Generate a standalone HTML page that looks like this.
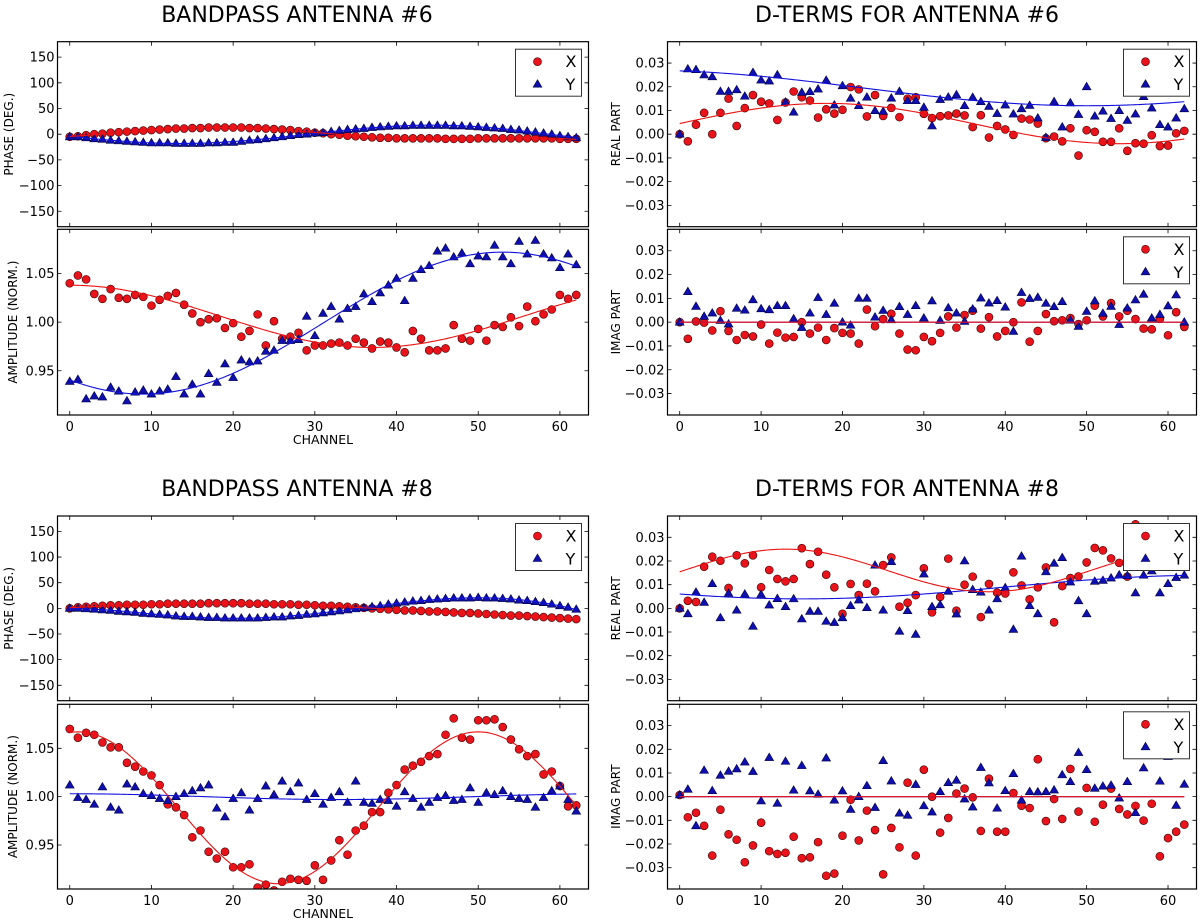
<!DOCTYPE html>
<html><head><meta charset="utf-8"><style>
html,body{margin:0;padding:0;background:#fff;}
svg{display:block;font-family:"DejaVu Sans","Liberation Sans",sans-serif;}
</style></head><body>
<svg id="fig" width="1200" height="921" viewBox="0 0 1200 921" xmlns="http://www.w3.org/2000/svg">
<text x="297" y="22" font-size="22" text-anchor="middle">BANDPASS ANTENNA #6</text>
<text x="907" y="22" font-size="22" text-anchor="middle">D-TERMS FOR ANTENNA #6</text>
<text x="297" y="496" font-size="22" text-anchor="middle">BANDPASS ANTENNA #8</text>
<text x="907" y="496" font-size="22" text-anchor="middle">D-TERMS FOR ANTENNA #8</text>
</svg>
<script>
// ---- data (channels 0..62) ----
const channels = Array.from({length:63},(_,i)=>i);
const xTicks = [0,10,20,30,40,50,60];
const phaseTicks = [-150,-100,-50,0,50,100,150];
const ampTicks = [0.95,1.00,1.05];
const dTicks = [-0.03,-0.02,-0.01,0.00,0.01,0.02,0.03];
const dTickLabels = ["\u22120.03","\u22120.02","\u22120.01","0.00","0.01","0.02","0.03"];

const ph6X = [-5,-4,-2,0,1,3,4,5,6,7,8,9,10,11,11,12,12,13,13,13,13,13,12,12,11,10,9,8,6,5,3,2,0,-1,-3,-4,-5,-6,-7,-7,-8,-8,-8,-8,-8,-8,-9,-9,-9,-9,-8,-8,-8,-8,-8,-8,-8,-8,-8,-8,-9,-9,-9];
const ph6Y = [-5,-5,-7,-9,-10,-12,-13,-14,-15,-16,-17,-17,-17,-18,-18,-18,-18,-17,-17,-16,-16,-14,-12,-11,-9,-7,-5,-3,-1,0,2,3,5,7,9,10,11,13,14,15,16,16,17,17,17,17,17,16,16,15,14,13,12,11,9,8,6,4,2,0,-3,-5,-7];
const amp6X = [1.040,1.048,1.044,1.029,1.024,1.034,1.025,1.024,1.028,1.026,1.017,1.023,1.027,1.030,1.018,1.009,1.000,1.003,1.004,0.994,0.999,0.985,0.991,1.008,0.976,1.001,0.983,0.985,0.989,0.971,0.976,0.976,0.978,0.979,0.976,0.983,0.979,0.973,0.980,0.979,0.974,0.969,0.991,0.983,0.971,0.971,0.973,0.997,0.983,0.981,0.993,0.981,0.997,0.995,1.005,0.996,1.016,1.001,1.008,1.013,1.028,1.024,1.028];
const amp6Y = [0.939,0.941,0.921,0.924,0.923,0.933,0.929,0.919,0.928,0.930,0.926,0.929,0.931,0.944,0.926,0.936,0.926,0.947,0.938,0.957,0.943,0.961,0.959,0.960,0.970,0.971,0.981,0.981,0.982,1.006,0.986,1.009,1.016,1.003,1.014,1.016,1.029,1.021,1.030,1.038,1.045,1.022,1.045,1.054,1.058,1.073,1.076,1.067,1.071,1.060,1.068,1.067,1.079,1.067,1.060,1.083,1.070,1.084,1.070,1.066,1.056,1.070,1.059];
const re6X = [0.000,-0.003,0.004,0.009,0.000,0.009,0.015,0.0035,0.011,0.0165,0.0137,0.013,0.006,0.0134,0.018,0.0156,0.0142,0.007,0.0105,0.0087,0.0103,0.0199,0.0189,0.0075,0.0165,0.0077,0.0111,0.0072,0.015,0.0156,0.0086,0.0068,0.0076,0.0079,0.0087,0.0079,0.003,0.008,-0.0014,0.0035,0.002,-0.0003,0.0066,0.0062,0.0045,-0.0017,-0.001,-0.003,0.0025,-0.009,0.0017,0.001,-0.0032,-0.0032,0.0025,-0.007,-0.0038,-0.004,-0.0004,-0.005,-0.0048,0.0004,0.0014];
const re6Y = [0.0,0.0275,0.0272,0.025,0.0242,0.018,0.018,0.0187,0.016,0.026,0.0228,0.0224,0.025,0.0135,0.0093,0.0176,0.0179,0.019,0.0227,0.0123,0.0204,0.0151,0.012,0.0156,0.0099,0.0096,0.0152,0.018,0.0141,0.0141,0.0113,0.0035,0.0146,0.0156,0.0166,0.012,0.0155,0.0137,0.0117,0.0087,0.0123,0.0085,0.0107,0.0121,0.0068,-0.0014,0.0137,0.003,0.0132,0.0083,0.02,0.0076,0.0097,0.0066,0.0099,0.0058,0.0085,0.0158,0.011,0.004,0.003,0.0068,0.0107];
const im6X = [0,-0.007,0.0003,-0.0002,-0.0035,0.0046,-0.0037,-0.0075,-0.0054,-0.006,-0.001,-0.009,-0.0044,-0.0065,-0.0062,0,-0.0048,-0.0023,-0.0075,-0.0025,-0.0045,-0.0048,-0.009,0.0053,-0.0017,0.0013,0.0035,-0.0048,-0.0115,-0.0118,-0.0062,-0.008,-0.0045,0.0024,-0.0023,0.003,0.0048,-0.0027,0.0021,-0.006,-0.0037,0,0.0083,-0.0082,-0.0037,0.0034,0.0004,0.0008,0.0017,-0.0008,0.0008,0.0069,0.0024,0.008,0.0024,0.0048,0.0013,-0.0027,-0.003,0.0014,-0.0055,0.0042,-0.002];
const im6Y = [0,0.0128,0.0066,0.0024,0.0038,0.0007,-0.0008,0.0058,0.005,0.0094,0.0056,0.0052,0.0069,0.0069,0.0014,-0.0023,0.0038,0.0103,0.0032,0.0079,0,-0.0013,0.01,0.01,0.0021,0.0049,0.001,0.0065,0.0032,0.0069,0.0017,0.0089,0.0007,0.006,0.0038,0.0003,0.0055,0.0101,0.008,0.009,0.0063,-0.0039,0.0124,0.0099,0.0104,0.0079,0.0065,0.0086,0.0008,-0.0018,0.0045,0.0089,0.0037,0.0066,-0.001,0.0059,0.0093,0.0117,0.0017,0.0032,0.0068,0.0114,0];

const ph8X = [0,2,3,4,5,6,6,7,7,7,8,8,9,9,9,9,9,10,10,10,10,10,9,9,9,8,8,8,7,7,6,5,5,4,3,2,1,0,-1,-2,-3,-4,-4,-5,-6,-6,-7,-8,-9,-9,-10,-11,-12,-13,-14,-14,-15,-16,-17,-18,-19,-20,-21];
const ph8Y = [0,0,-1,-2,-3,-4,-6,-7,-8,-10,-11,-12,-13,-15,-16,-16,-17,-18,-18,-19,-19,-19,-19,-19,-18,-17,-17,-15,-14,-12,-11,-9,-7,-5,-3,-1,1,3,5,8,10,12,14,15,17,18,19,20,20,20,21,20,20,19,18,16,15,13,11,8,5,2,-2];
const amp8X = [1.070,1.061,1.066,1.064,1.056,1.051,1.051,1.035,1.031,1.026,1.022,1.012,0.992,0.989,0.981,0.958,0.965,0.943,0.936,0.943,0.927,0.927,0.930,0.906,0.909,0.903,0.912,0.915,0.914,0.913,0.929,0.914,0.934,0.955,0.940,0.965,0.970,0.984,0.984,1.004,1.012,1.028,1.032,1.036,1.042,1.044,1.064,1.081,1.061,1.059,1.079,1.079,1.080,1.072,1.059,1.049,1.042,1.044,1.023,1.026,1.011,0.990,0.991];
const amp8Y = [1.012,0.999,0.997,0.992,1.010,0.989,0.986,1.013,1.010,1.003,1.001,0.998,0.996,1.000,1.003,1.006,1.009,1.012,0.988,0.979,0.998,1.004,0.986,0.998,1.011,1.002,1.016,1.005,1.014,0.997,1.003,0.992,0.999,1.005,0.994,1.016,0.994,0.993,0.997,0.996,0.990,1.005,0.998,0.989,0.994,0.999,1.001,0.996,0.997,1.009,0.994,1.004,1.002,1.006,1.000,0.998,0.997,0.989,0.999,1.006,1.011,0.997,0.985];
const re8X = [0,0.0032,0.0027,0.0176,0.0218,0.0201,0.0086,0.0224,0.019,0.0224,0.0089,0.0162,0.0124,0.0114,0.0124,0.0254,0.0187,0.0239,0.0142,0.0089,-0.0023,0.0103,0.0056,0.0104,0.0072,0.0183,0.0215,0.0007,0.0024,0.0056,0.0169,-0.0017,0.0048,0.021,-0.001,0.01,0.0134,-0.0037,0.0103,0.0066,0.0063,0.0152,0.0097,0.0038,0.0089,0.0173,-0.0059,0.0094,0.0128,0.0135,0.0194,0.0255,0.0245,0.0211,0.0192,0.0134,0.0355,0.022,0.026,0.02,0.018,0.024,0.022];
const re8Y = [0,-0.0023,0.0068,0.0025,0.0104,-0.004,0.0063,-0.0008,0.006,-0.0076,0.0058,0.0014,0.0041,0.0007,0.004,-0.0045,-0.0013,-0.0013,-0.0055,-0.006,-0.004,0.0011,0.0035,0.0003,0.0182,-0.0008,0.0197,-0.0097,-0.001,-0.011,0.0145,0.0007,0.0015,0.0072,-0.0024,0.02,0.0079,0.0068,-0.0008,0.004,0.0087,-0.0089,0.022,0.0011,-0.0023,0.0154,0.019,0.0214,0.0111,0.0032,-0.0023,0.0114,0.0118,0.0128,0.0141,0.0138,0.0065,0.014,0.0158,0.0065,0.0104,0.013,0.014];
const im8X = [0.0007,-0.0087,-0.0068,-0.0123,-0.0249,-0.0055,-0.0159,-0.0182,-0.0277,-0.0206,-0.011,-0.023,-0.0242,-0.0237,-0.0169,-0.026,-0.0256,-0.0192,-0.0334,-0.0325,-0.0165,-0.0013,-0.0185,-0.0059,-0.0141,-0.0328,-0.0132,-0.0214,0.0059,-0.0249,0.0114,0,-0.0152,-0.009,0.0013,0.0034,-0.0003,-0.0145,0.0076,-0.0148,-0.0148,0.0015,-0.0038,-0.0048,0.0158,-0.0103,-0.001,-0.0094,0.0117,-0.0063,0.0037,-0.0106,-0.0034,0.0034,-0.0052,-0.0075,-0.0039,-0.0101,-0.003,-0.0252,-0.0175,-0.0148,-0.0118];
const im8Y = [0.0007,0.0031,-0.0123,0.0111,0.0025,0.009,0.0107,0.0117,0.0146,0.0106,-0.0018,0.0165,-0.0028,0.0149,0.0027,0.0131,0.0024,0.001,0.0163,-0.0015,0.0024,-0.0054,0,0.0046,-0.0046,0.0152,0.0066,-0.007,-0.0079,0.0051,-0.0039,-0.0065,0.0021,0.0059,0.0069,-0.001,-0.0044,0.0123,0.0058,-0.0049,0.0025,0.0097,-0.0015,0.0021,0.002,0.0021,0.0028,0.0092,0.0063,0.0186,0.0114,0.0035,0.0044,0.0048,-0.0006,0.0063,-0.0068,0.0121,0.02,0.0065,0.0169,-0.0037,0.0052];

// fitted model parameters: [center, amplitude, period, reference channel]
const fitAmp6X = [1.006,-0.032,74,37];
const fitAmp6Y = [0.999,-0.073,88,9];
const fitAmp8X = [0.9885,-0.0785,49,25.5];
const fitAmp8Y = [1.0,-0.003,66,33];
const fitRe6X = [0.0045,0.0085,72,18];
const fitRe6Y = [0.0195,0.0075,110,-5];
const fitRe8X = [0.016,0.009,50,13];
const fitRe8Y = [0.009,-0.005,100,15];
const fitZero = [0,0,1,0];

// ---- drawing ----
const NS = "http://www.w3.org/2000/svg";
const svg = document.getElementById('fig');
function mk(tag, attrs, parent){const e=document.createElementNS(NS,tag);for(const k in attrs)e.setAttribute(k,attrs[k]);(parent||svg).appendChild(e);return e;}
let clipId=0;

function polyFit(xs, ys, deg){
  const n=deg+1, A=[], b=[];
  const sx=x=>(x-31)/31;
  for(let i=0;i<n;i++){A.push(new Array(n).fill(0));b.push(0);}
  xs.forEach((x,k)=>{const t=sx(x);const p=[];for(let i=0;i<n;i++)p.push(Math.pow(t,i));
    for(let i=0;i<n;i++){b[i]+=p[i]*ys[k];for(let j=0;j<n;j++)A[i][j]+=p[i]*p[j];}});
  for(let i=0;i<n;i++){let m=i;for(let r=i+1;r<n;r++)if(Math.abs(A[r][i])>Math.abs(A[m][i]))m=r;
    [A[i],A[m]]=[A[m],A[i]];[b[i],b[m]]=[b[m],b[i]];
    for(let r=i+1;r<n;r++){const f=A[r][i]/A[i][i];for(let j=i;j<n;j++)A[r][j]-=f*A[i][j];b[r]-=f*b[i];}}
  const c=new Array(n).fill(0);
  for(let i=n-1;i>=0;i--){let s=b[i];for(let j=i+1;j<n;j++)s-=A[i][j]*c[j];c[i]=s/A[i][i];}
  return x=>{const t=sx(x);let v=0;for(let i=0;i<n;i++)v+=c[i]*Math.pow(t,i);return v;};
}
function cosModel(p){return c=>p[0]+p[1]*Math.cos(2*Math.PI*(c-p[3])/p[2]);}

function panel(o){
  const {x0,x1,y0,y1,ylim,yt,ytl,xLabels,legend,name}=o;
  const xs=c=>x0+(c-(-1.5))/65*(x1-x0);
  const ys=v=>y1-(v-ylim[0])/(ylim[1]-ylim[0])*(y1-y0);
  const g=mk('g',{});
  
  
  const cid='clip'+(clipId++);
  const cp=mk('clipPath',{id:cid},g); mk('rect',{x:x0,y:y0,width:x1-x0,height:y1-y0},cp);
  xTicks.forEach(t=>{const X=xs(t);
    const tk=mk('path',{d:`M${X},${y1}v-4M${X},${y0}v4`,stroke:'#000','stroke-width':0.8},g);
    
    
    if(xLabels){const tl=mk('text',{x:X,y:y1+16,'font-size':13,'text-anchor':'middle'},g);tl.textContent=String(t);
      
      }
  });
  yt.forEach((t,i)=>{const Y=ys(t);
    const tk=mk('path',{d:`M${x0},${Y}h4M${x1},${Y}h-4`,stroke:'#000','stroke-width':0.8},g);
    
    
    const tl=mk('text',{x:x0-3,y:Y+4.5,'font-size':13,'text-anchor':'end'},g);tl.textContent=ytl[i];
    
    
  });
  const pg=mk('g',{'clip-path':`url(#${cid})`},g);
  o.dX.forEach((v,i)=>{const c=mk('circle',{cx:xs(channels[i]),cy:ys(v),r:4,fill:'#e8131b',stroke:'#3a0000','stroke-width':0.6},pg);
    
    });
  o.dY.forEach((v,i)=>{const X=xs(channels[i]),Y=ys(v);
    const t=mk('path',{d:`M${X},${Y-4.5}L${X+4.4},${Y+3}L${X-4.4},${Y+3}Z`,fill:'#0f0fb0',stroke:'#000040','stroke-width':0.6},pg);
    
    });
  const c0=channels[0], c1=channels[channels.length-1];
  [[o.fY,'#1111dd','y-fit-line'],[o.fX,'#ee1111','x-fit-line']].forEach(([f,col,nm])=>{
    let d='';for(let c=c0;c<=c1+1e-9;c+=0.25){d+=(d?'L':'M')+xs(c).toFixed(2)+','+ys(f(c)).toFixed(2);}
    const l=mk('path',{d,fill:'none',stroke:col,'stroke-width':1.1},pg);
    
    
  });
  const fr=mk('rect',{x:x0,y:y0,width:x1-x0,height:y1-y0,fill:'none',stroke:'#000','stroke-width':1.2},g);
  
  
  if(legend){
    const lx=x1-73, ly=y0+7.5;
    const lg=mk('g',{},g);
    
    
    mk('rect',{x:lx,y:ly,width:66,height:47,fill:'#fff',stroke:'#333','stroke-width':1},lg);
    const c=mk('circle',{cx:lx+22,cy:ly+12.5,r:4,fill:'#e8131b',stroke:'#3a0000','stroke-width':0.6},lg);
    
    
    const tx=mk('text',{x:lx+50,y:ly+18,'font-size':16},lg);tx.textContent='X';
    
    
    const X=lx+22,Y=ly+35;
    const t=mk('path',{d:`M${X},${Y-4.5}L${X+4.4},${Y+3}L${X-4.4},${Y+3}Z`,fill:'#0f0fb0',stroke:'#000040','stroke-width':0.6},lg);
    
    
    const ty=mk('text',{x:lx+50,y:ly+41,'font-size':16},lg);ty.textContent='Y';
    
    
  }
  if(o.ylabel){
    const cy=(y0+y1)/2;
    const yl=mk('text',{x:o.ylx,y:cy,'font-size':12,'text-anchor':'middle',transform:`rotate(-90 ${o.ylx} ${cy})`},g);
    yl.textContent=o.ylabel;
    
    
  }
}

const L=[57.5,588.5], R=[667.5,1196.5];
const rows=[[41.7,226.7,229.3,415],[516,700.7,704.3,889]];
const phLab=phaseTicks.map(t=>t<0?'\u2212'+Math.abs(t):String(t));
const ampLab=ampTicks.map(t=>t.toFixed(2));
const ampLim=[0.9045,1.0955], phLim=[-180,180], dLim=[-0.039,0.039];
const sets=[
 {ph:[ph6X,ph6Y],amp:[amp6X,amp6Y],fa:[fitAmp6X,fitAmp6Y],re:[re6X,re6Y],fr:[fitRe6X,fitRe6Y],im:[im6X,im6Y],n:'ant6'},
 {ph:[ph8X,ph8Y],amp:[amp8X,amp8Y],fa:[fitAmp8X,fitAmp8Y],re:[re8X,re8Y],fr:[fitRe8X,fitRe8Y],im:[im8X,im8Y],n:'ant8'}];
sets.forEach((s,k)=>{
  const r=rows[k];
  panel({name:'phase-panel-'+s.n,x0:L[0],x1:L[1],y0:r[0],y1:r[1],ylim:phLim,yt:phaseTicks,ytl:phLab,xLabels:false,legend:true,
    dX:s.ph[0],dY:s.ph[1],fX:polyFit(channels,s.ph[0],5),fY:polyFit(channels,s.ph[1],5),ylabel:'PHASE (DEG.)',ylx:13});
  panel({name:'amplitude-panel-'+s.n,x0:L[0],x1:L[1],y0:r[2],y1:r[3],ylim:ampLim,yt:ampTicks,ytl:ampLab,xLabels:true,legend:false,
    dX:s.amp[0],dY:s.amp[1],fX:cosModel(s.fa[0]),fY:cosModel(s.fa[1]),ylabel:'AMPLITUDE (NORM.)',ylx:17});
  panel({name:'real-part-panel-'+s.n,x0:R[0],x1:R[1],y0:r[0],y1:r[1],ylim:dLim,yt:dTicks,ytl:dTickLabels,xLabels:false,legend:true,
    dX:s.re[0],dY:s.re[1],fX:cosModel(s.fr[0]),fY:cosModel(s.fr[1]),ylabel:'REAL PART',ylx:620});
  panel({name:'imag-part-panel-'+s.n,x0:R[0],x1:R[1],y0:r[2],y1:r[3],ylim:dLim,yt:dTicks,ytl:dTickLabels,xLabels:true,legend:true,
    dX:s.im[0],dY:s.im[1],fX:cosModel(fitZero),fY:cosModel(fitZero),ylabel:'IMAG PART',ylx:620});
  const ch=mk('text',{x:323,y:r[3]+29,'font-size':12.5,'text-anchor':'middle'});
  ch.textContent='CHANNEL';
  
  
});
</script>
</body></html>
